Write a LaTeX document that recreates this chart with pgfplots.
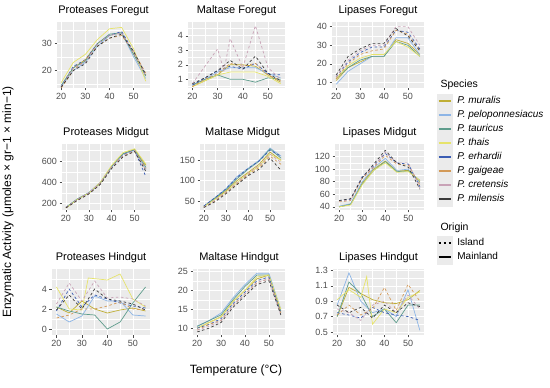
\documentclass[border=0pt]{standalone}
\usepackage{pgfplots}
\pgfplotsset{compat=1.18}
\usepackage{pgfplotstable}
\usepackage{fontspec}
\setmainfont{Liberation Sans}

\definecolor{cmur}{HTML}{BFAE35}
\definecolor{cpel}{HTML}{8DB5E6}
\definecolor{ctau}{HTML}{5E9C8C}
\definecolor{ctha}{HTML}{E6E36A}
\definecolor{cerh}{HTML}{3B5DB3}
\definecolor{cgai}{HTML}{D39A58}
\definecolor{ccre}{HTML}{C8A2B6}
\definecolor{cmil}{HTML}{3A3A3A}
\definecolor{panelbg}{HTML}{EBEBEB}
\definecolor{ticktext}{HTML}{4D4D4D}

% Proteases Foregut
\pgfplotstableread{
T mur pel tau tha erh gai cre mil
20 14 14 14.5 15.5 14 13.5 14 13.8
25 21 20 21 23 21.5 20 21 20
30 24 23 23.5 26 24 24 23 22.5
35 30 29 30 31.5 30 29 30 29
40 33 33 33.5 35.5 33 32 33 32
45 34 34 34 36 34.5 33 34 33.5
50 26 25 26 28 27 27 26.5 27
55 18 17 18 16 18.5 19 18 18.5
}\tPF
% Maltase Foregut
\pgfplotstableread{
T mur pel tau tha erh gai cre mil
20 0.5 0.6 0.6 0.5 0.6 0.5 0.7 0.7
25 0.9 1.0 1.0 0.9 1.1 1.0 1.9 1.1
30 1.3 1.5 1.3 1.3 1.6 1.4 3.1 1.6
32.5 nan nan nan nan nan nan 1.6 nan
35 2.0 1.8 1.0 1.5 1.9 2.1 3.8 2.3
40 2.0 1.8 1.0 1.5 1.7 1.9 1.8 1.7
45 1.9 1.8 0.8 1.5 2.1 2.1 4.7 2.6
50 1.3 1.4 1.1 1.2 1.4 1.3 1.8 1.4
55 0.8 1.1 1.0 0.7 1.3 0.9 1.0 0.9
}\tMF
% Lipases Foregut
\pgfplotstableread{
T mur pel tau tha erh gai cre mil
20 11 9 12 12 13 12 13 14
25 18 16 18 19 21 20 22 24
30 21 20 22 23 26 25 27 28
35 24 24 24 25 29 27 30 31
40 24 24 24 25 29 28 30 31
45 33 34 32 32 38 38 40 39
50 31 34 30 29 37 36 40 35
55 25 25 24 24 28 27 30 27
}\tLF
% Proteases Midgut
\pgfplotstableread{
T mur pel tau tha erh gai cre mil
20 160 165 165 160 165 160 165 160
25 240 240 245 240 240 235 240 230
30 300 305 300 300 300 295 300 290
35 390 400 395 400 390 390 395 380
40 550 545 550 560 540 540 545 530
45 670 665 670 680 660 650 655 640
50 710 700 705 715 700 690 700 690
55 560 520 540 570 450 530 510 500
}\tPM
% Maltase Midgut
\pgfplotstableread{
T mur pel tau tha erh gai cre mil
20 36 37 37 36 38 35 35 34
25 55 58 57 54 58 50 52 48
30 75 80 78 72 80 70 72 68
35 100 110 105 95 108 92 95 90
40 120 130 128 118 130 115 118 112
45 140 150 148 135 148 132 137 128
50 170 180 178 165 175 160 165 155
55 150 160 155 150 160 140 145 125
}\tMM
% Lipases Midgut
\pgfplotstableread{
T mur pel tau tha erh gai cre mil
20 40 41 40 40 50 48 49 50
25 44 45 44 43 52 50 51 53
30 78 80 76 75 88 85 87 86
35 100 102 98 98 105 103 104 108
40 113 117 112 110 125 122 127 130
45 97 98 96 95 110 108 110 110
50 98 100 97 96 108 106 110 103
55 80 78 82 82 72 75 70 68
}\tLM
% Proteases Hindgut
\pgfplotstableread{
T mur pel tau tha erh gai cre mil
20 2.2 1.5 2.2 4.2 1.8 1.1 2.5 1.9
25 1.6 0.7 1.8 2.0 4.0 1.4 4.6 3.4
30 2.8 1.3 1.5 1.9 2.2 2.0 2.8 2.0
32.5 nan nan nan 5.1 nan nan nan nan
35 2.0 3.3 1.4 nan 3.4 2.0 4.8 4.0
40 1.6 2.8 0.0 4.9 3.0 2.3 3.1 3.0
45 1.9 2.8 0.7 5.5 2.6 2.7 3.2 2.8
50 2.1 1.4 2.6 3.0 2.3 2.0 3.0 2.5
55 1.8 1.3 4.2 2.2 2.1 1.9 2.3 1.9
}\tPH
% Maltase Hindgut
\pgfplotstableread{
T mur pel tau tha erh gai cre mil
20 10 10.5 10.5 10 10 9.5 9.5 9
25 11.5 12 12 11.5 11 11 10.5 10
30 13 14 13.5 13 12.5 12 12 11.5
35 17 18 17.5 17 16.5 16 16 15.5
40 20 21.5 21 20 19.5 19 19 18.5
45 23 24.5 24 23.5 22.5 22 22 21.5
50 24 24.5 24 24 23.5 23 23 22.5
55 14 15 14.5 15 14 14 13.5 13.5
}\tMH
% Lipases Hindgut
\pgfplotstableread{
T mur pel tau tha erh gai cre mil
20 0.70 0.85 0.70 0.92 0.75 0.72 0.80 0.85
25 1.08 1.27 1.15 1.05 0.72 0.85 0.75 0.75
30 1.00 0.90 1.00 0.95 0.68 0.72 0.65 0.82
32.5 nan nan nan 1.22 nan nan nan nan
35 0.92 0.75 0.70 0.60 0.82 0.80 0.85 0.68
40 0.88 0.80 0.80 0.80 0.75 1.08 0.90 0.85
45 0.87 0.70 0.62 0.75 0.72 0.78 0.75 0.75
50 0.92 1.05 0.85 0.95 0.70 1.12 0.98 0.88
55 1.04 0.52 0.85 1.02 0.65 0.90 0.80 0.83
}\tLH

\tikzset{
  island/.style={dash pattern=on 2.6pt off 2.4pt},
  smur/.style={draw=cmur, line width=0.7pt},
  spel/.style={draw=cpel, line width=0.7pt},
  stau/.style={draw=ctau, line width=0.7pt},
  stha/.style={draw=ctha, line width=0.7pt},
  serh/.style={draw=cerh, line width=0.7pt, island},
  sgai/.style={draw=cgai, line width=0.7pt, island},
  scre/.style={draw=ccre, line width=0.7pt, island},
  smil/.style={draw=cmil, line width=0.7pt, island},
}
\pgfplotsset{
  gg/.style={
    scale only axis, height=66pt, anchor=north west,
    xmin=18.25, xmax=56.75,
    xtick={20,30,40,50}, minor xtick={25,35,45},
    axis background/.style={fill=panelbg},
    axis line style={draw=none},
    grid=both,
    major grid style={white, line width=0.6pt},
    minor grid style={white, line width=0.3pt},
    tick align=outside, tick pos=left,
    major tick length=2.5pt, minor tick length=0pt,
    tick style={black!70, line width=0.5pt},
    ticklabel style={font=\fontsize{9}{9}\selectfont, text=ticktext},
    xticklabel style={yshift=1pt},
    yticklabel style={xshift=1pt},
    title style={font=\fontsize{11}{11}\selectfont, yshift=-3pt},
    /pgf/number format/assume math mode=true,
  },
}

\newcommand{\plotall}[1]{%
  \addplot[smur] table[x=T,y=mur]{#1};
  \addplot[spel] table[x=T,y=pel]{#1};
  \addplot[stau] table[x=T,y=tau]{#1};
  \addplot[stha] table[x=T,y=tha]{#1};
  \addplot[serh] table[x=T,y=erh]{#1};
  \addplot[sgai] table[x=T,y=gai]{#1};
  \addplot[scre] table[x=T,y=cre]{#1};
  \addplot[smil] table[x=T,y=mil]{#1};
}
\newcommand{\legkey}[2]{%
  \addlegendimage{legend image code/.code={%
    \fill[panelbg] (0pt,-6.8pt) rectangle (15pt,6.8pt);
    \draw[color=#1, line width=1.1pt, #2] (1.5pt,0pt) -- (13.5pt,0pt);}}}

\begin{document}
\begin{tikzpicture}[x=1pt,y=1pt]
\useasboundingbox (0,0) rectangle (550,388);

% Row 1
\begin{axis}[gg, at={(57pt,366pt)}, width=93pt, title={Proteases Foregut},
  ymin=13.5, ymax=38, ytick={20,30}, minor ytick={15,25,35}]
\plotall{\tPF}
\end{axis}
\begin{axis}[gg, at={(188pt,366pt)}, width=97pt, title={Maltase Foregut},
  ymin=0.4, ymax=4.95, ytick={1,2,3,4}, minor ytick={0.5,1.5,2.5,3.5,4.5}]
\plotall{\tMF}
\end{axis}
\begin{axis}[gg, at={(332pt,366pt)}, width=92pt, title={Lipases Foregut},
  ymin=7, ymax=42.5, ytick={10,20,30,40}, minor ytick={15,25,35}]
\plotall{\tLF}
\end{axis}

% Row 2
\begin{axis}[gg, at={(62pt,244pt)}, width=88pt, title={Proteases Midgut},
  ymin=140, ymax=760, ytick={200,400,600}, minor ytick={300,500,700}]
\plotall{\tPM}
\end{axis}
\begin{axis}[gg, at={(200pt,244pt)}, width=85pt, title={Maltase Midgut},
  ymin=28, ymax=190, ytick={50,100,150}, minor ytick={75,125,175}]
\plotall{\tMM}
\end{axis}
\begin{axis}[gg, at={(335pt,244pt)}, width=89pt, title={Lipases Midgut},
  ymin=35, ymax=140, ytick={40,60,80,100,120}, minor ytick={50,70,90,110,130}]
\plotall{\tLM}
\end{axis}

% Row 3
\begin{axis}[gg, at={(52pt,119pt)}, width=98pt, title={Proteases Hindgut},
  ymin=-0.6, ymax=6, ytick={0,2,4}, minor ytick={1,3,5}]
\plotall{\tPH}
\end{axis}
\begin{axis}[gg, at={(193pt,119pt)}, width=92pt, title={Maltase Hindgut},
  ymin=8.2, ymax=25.6, ytick={10,15,20,25}, minor ytick={12.5,17.5,22.5}]
\plotall{\tMH}
\end{axis}
\begin{axis}[gg, at={(333pt,119pt)}, width=91pt, title={Lipases Hindgut},
  ymin=0.46, ymax=1.32, ytick={0.5,0.7,0.9,1.1,1.3}, minor ytick={0.6,0.8,1.0,1.2},
  yticklabel style={/pgf/number format/.cd, fixed, fixed zerofill, precision=1}]
\plotall{\tLH}
\end{axis}

% Axis titles
\node[rotate=90, font=\fontsize{12}{12}\selectfont] at (8,186) {Enzymatic Activity (μmoles × gr−1 × min−1)};
\node[font=\fontsize{12}{12}\selectfont] at (236,18) {Temperature (°C)};

% Legends
\pgfplotsset{
  legstyle/.style={hide axis, scale only axis, width=10pt, height=10pt,
    xmin=0, xmax=1, ymin=0, ymax=1, anchor=north west,
    legend cell align=left,
    legend style={at={(0,1)}, anchor=north west, draw=none, fill=none,
      inner sep=0pt, outer sep=0pt, row sep=0pt, column sep=5pt,
      font=\fontsize{10}{10}\selectfont,
      nodes={inner sep=0pt, text height=9.3pt, text depth=4.3pt}}},
}
\node[anchor=west, font=\fontsize{10.5}{10.5}\selectfont] at (437,303) {Species};
\begin{axis}[legstyle, at={(437pt,294pt)}]
\legkey{cmur}{}\addlegendentry{\textit{P. muralis}}
\legkey{cpel}{}\addlegendentry{\textit{P. peloponnesiacus}}
\legkey{ctau}{}\addlegendentry{\textit{P. tauricus}}
\legkey{ctha}{}\addlegendentry{\textit{P. thais}}
\legkey{cerh}{}\addlegendentry{\textit{P. erhardii}}
\legkey{cgai}{}\addlegendentry{\textit{P. gaigeae}}
\legkey{ccre}{}\addlegendentry{\textit{P. cretensis}}
\legkey{cmil}{}\addlegendentry{\textit{P. milensis}}
\end{axis}
\node[anchor=west, font=\fontsize{10.5}{10.5}\selectfont] at (437,160) {Origin};
\begin{axis}[legstyle, at={(437pt,152pt)}]
\legkey{black}{island}\addlegendentry{Island}
\legkey{black}{}\addlegendentry{Mainland}
\end{axis}
\end{tikzpicture}
\end{document}
